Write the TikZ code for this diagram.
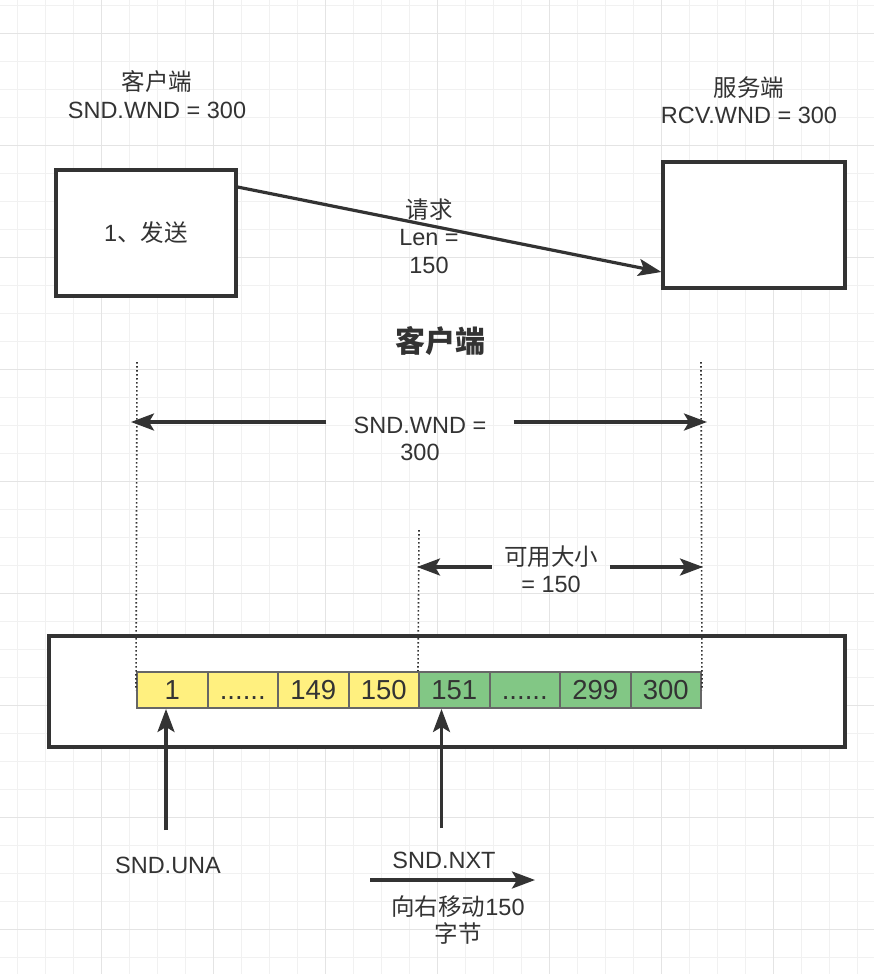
\documentclass[tikz,border=0pt]{standalone}
\usepackage{fontspec}
\setmainfont{Liberation Sans}
\newfontfamily\cjk{Noto Sans CJK SC}
\usetikzlibrary{arrows.meta,calc}
\definecolor{ink}{HTML}{333333}
\definecolor{cellb}{HTML}{666666}
\definecolor{yel}{HTML}{FFF07F}
\definecolor{grn}{HTML}{82C785}
\definecolor{gminor}{HTML}{F1F1F1}
\definecolor{gmajor}{HTML}{E4E4E4}
\tikzset{
  basefont/.style={font=\fontsize{23.5}{27.5}\selectfont},
  lbl/.style={basefont, text=ink, align=center, inner sep=0pt},
  box/.style={draw=ink, fill=white, line width=3.2pt},
  arr/.style={draw=ink, line width=3.2pt, -{Stealth[length=23pt,width=17pt,inset=5pt]}},
  dotline/.style={draw=ink, line width=1.6pt, dash pattern=on 1.6pt off 2.4pt},
  cell/.style={draw=cellb, line width=2pt, minimum width=70.5pt, minimum height=36pt,
    inner sep=0pt, text=ink, text height=19.5pt, text depth=0pt,
    font=\fontsize{27.5}{31}\selectfont},
  gridminor/.style={draw=gminor, line width=1pt},
  gridmajor/.style={draw=gmajor, line width=1.5pt}
}
\begin{document}
\begin{tikzpicture}[x=1pt,y=-1pt]
\fill[white] (0,0) rectangle (874,974);
\useasboundingbox (0,0) rectangle (874,974);
% grid
\foreach \i in {0,...,31} {
  \draw[gridminor] ({17.7+28*\i},0) -- ({17.7+28*\i},974);
}
\foreach \i in {0,...,34} {
  \draw[gridminor] (0,{5.3+28*\i}) -- (874,{5.3+28*\i});
}
\foreach \i in {0,...,6} {
  \draw[gridmajor] ({101.7+112*\i},0) -- ({101.7+112*\i},974);
}
\foreach \i in {0,...,8} {
  \draw[gridmajor] (0,{33.3+112*\i}) -- (874,{33.3+112*\i});
}

% top part
\node[lbl] (cl) at (157,94.5) {{\cjk 客户端}\\SND.WND = 300};
\node[lbl] (sl) at (749,100) {{\cjk 服务端}\\RCV.WND = 300};
\node[box, minimum width=180pt, minimum height=126pt, basefont, text=ink] (cbox) at (146,233) {1{\cjk 、发送}};
\node[box, minimum width=182pt, minimum height=126pt] (sbox) at (754,225) {};
\coordinate (reqS) at (cbox.east |- 0,187);
\coordinate (reqE) at (sbox.west |- 0,272);
\draw[arr] (reqS) -- (reqE);
\node[lbl] (reql) at (429,236) {{\cjk 请求}\\Len =\\150};

% title
\node[text=ink, inner sep=0pt, font={\fontsize{30}{34}\selectfont\cjk\bfseries}] (title) at (440,341) {客户端};

% buffer
\node[box, minimum width=796pt, minimum height=111pt] (buf) at (447,691.5) {};
\node[cell, fill=yel] (c1) at (172.25,690) {1};
\node[cell, fill=yel] (c2) at (242.75,690) {......};
\node[cell, fill=yel] (c3) at (313.25,690) {149};
\node[cell, fill=yel] (c4) at (383.75,690) {150};
\node[cell, fill=grn] (c5) at (454.25,690) {151};
\node[cell, fill=grn] (c6) at (524.75,690) {......};
\node[cell, fill=grn] (c7) at (595.25,690) {299};
\node[cell, fill=grn] (c8) at (665.75,690) {300};

% dotted guides
\coordinate (gL) at (137,362);
\coordinate (gR) at (701,362);
\coordinate (gM) at (419,530);
\draw[dotline] (gL) -- (c1.west);
\draw[dotline] (gR) -- (c8.east);
\draw[dotline] (gM) -- (c5.north west);

% SND.WND span
\node[lbl, minimum width=187pt] (wnd) at (420,439) {SND.WND =\\300};
\coordinate (wndL) at (131,422);
\coordinate (wndR) at (707,422);
\draw[arr] (wnd.west |- wndL) -- (wndL);
\draw[arr] (wnd.east |- wndR) -- (wndR);

% available span
\node[lbl, minimum width=118pt] (avl) at (551,569) {{\cjk 可用大小}\\= 150};
\coordinate (avL) at (417,567);
\coordinate (avR) at (703,567);
\draw[arr] (avl.west |- avL) -- (avL);
\draw[arr] (avl.east |- avR) -- (avR);

% pointers
\coordinate (unaT) at (166,830);
\coordinate (nxtT) at (441.5,828);
\draw[arr] (unaT) -- (unaT |- c1.south);
\draw[arr] (nxtT) -- (nxtT |- c5.south);
\node[lbl] (unal) at (168,865) {SND.UNA};
\node[lbl] (nxtl) at (444,860) {SND.NXT};
\coordinate (mvS) at (370,880);
\coordinate (mvE) at (535,880);
\draw[arr] (mvS) -- (mvE);
\node[lbl] (mvl) at (458,920) {{\cjk 向右移动}150\\{\cjk 字节}};
\end{tikzpicture}
\end{document}
